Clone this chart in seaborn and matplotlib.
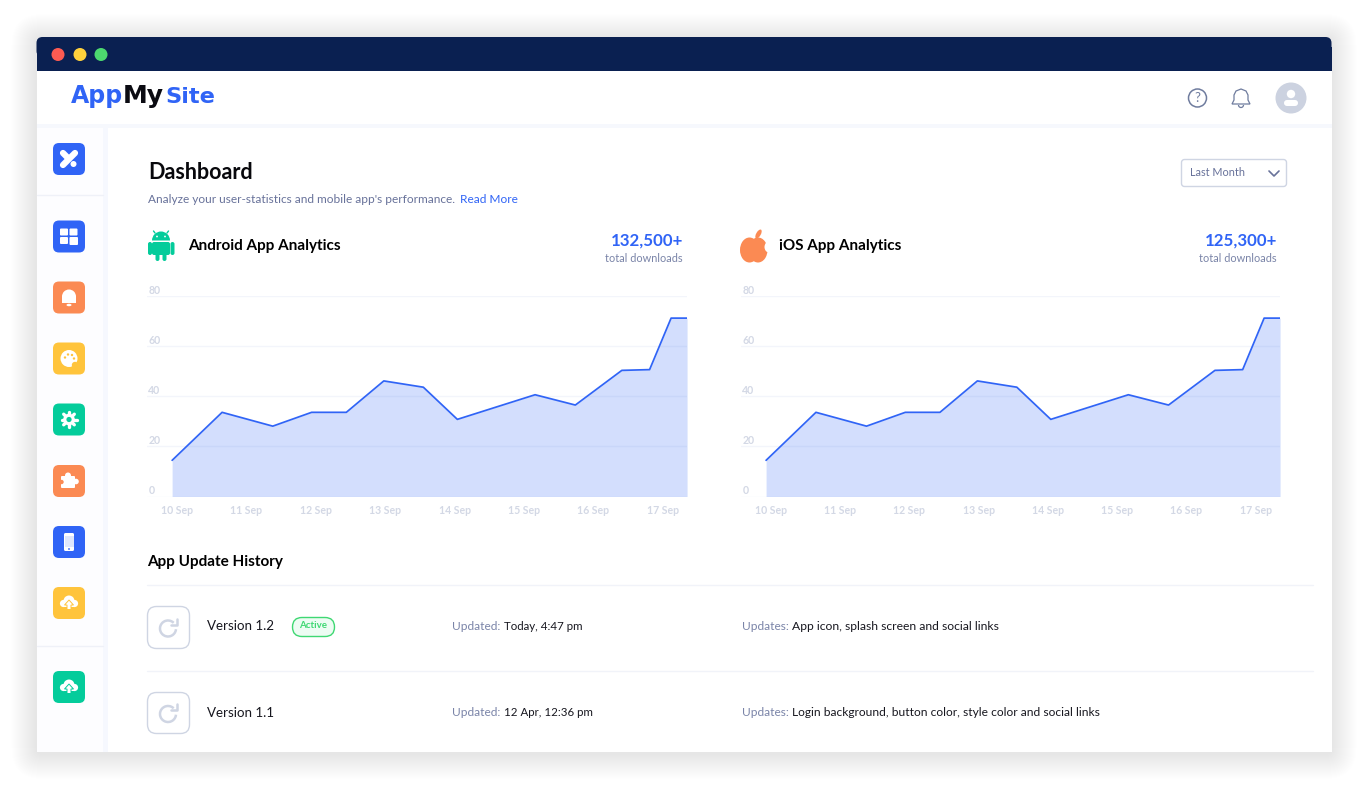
import numpy as np
import pandas as pd
import matplotlib
matplotlib.use("Agg")
import matplotlib.pyplot as plt
from matplotlib.patches import FancyBboxPatch, Circle, Rectangle, Ellipse, Polygon, Arc, Wedge
import seaborn as sns

# chart data, x is in days after 10 Sep
day_offset = [-0.07, 0.65, 1.38, 1.94, 2.44, 2.98, 3.55, 4.04, 5.16, 5.74, 6.41, 6.81, 7.12, 7.35]
android_values = [14.4, 33.5, 28, 33.5, 33.5, 46, 43.5, 30.7, 40.5, 36.4, 50.2, 50.5, 71, 71]
ios_values = [14.4, 33.5, 28, 33.5, 33.5, 46, 43.5, 30.7, 40.5, 36.4, 50.2, 50.5, 71, 71]
date_labels = ["10 Sep", "11 Sep", "12 Sep", "13 Sep", "14 Sep", "15 Sep", "16 Sep", "17 Sep"]
y_ticks = [0, 20, 40, 60, 80]

W, H = 1368, 788
BLUE = "#3064f6"
ORANGE = "#fb8a53"
YELLOW = "#ffc43c"
GREEN = "#04cc9b"
NAVY = "#0a2051"
MUTED = "#7a84a8"
PALE = "#cfd5e3"
TICK = "#d3d8e5"
GRID = "#f3f5fb"

sns.set_theme(style="white")
plt.rcParams["font.family"] = ["Lato", "DejaVu Sans"]

fig = plt.figure(figsize=(W / 100, H / 100), dpi=100, facecolor="white")
bg = fig.add_axes([0, 0, 1, 1])
bg.set_xlim(0, W)
bg.set_ylim(H, 0)
bg.axis("off")


def rrect(x, y, w, h, r, fc="white", ec="none", lw=1, alpha=None, z=2):
    p = FancyBboxPatch((x, y), w, h, boxstyle=f"round,pad=0,rounding_size={r}",
                       fc=fc, ec=ec, lw=lw, alpha=alpha, zorder=z)
    bg.add_patch(p)
    return p


def label(x, y, s, size, color="black", weight="normal", ha="left", va="center", family=None):
    bg.text(x, y, s, fontsize=size, color=color, fontweight=weight, ha=ha, va=va, zorder=6, family=family)


#Window shadow
for i in range(25, 0, -1):
    rrect(36.5 - i, 37 - i + 2, 1295 + 2 * i, 715 + 2 * i, 6 + i, fc="black", alpha=0.0045, z=1)

#Window frame
rrect(36.5, 37, 1295, 20, 6, fc=NAVY, z=2)
bg.add_patch(Rectangle((36.5, 47), 1295, 24, fc=NAVY, ec="none", zorder=2))
bg.add_patch(Rectangle((36.5, 71), 1295, 681, fc="white", ec="none", zorder=2))
for cx, col in zip([58, 80, 101], ["#fd5b52", "#ffd13c", "#4cd96f"]):
    bg.add_patch(Circle((cx, 54.5), 6.5, fc=col, ec="none", zorder=3))

#Header and sidebar shading
bg.add_patch(Rectangle((36.5, 124), 1295, 4, fc="#f6f8fd", ec="none", zorder=2.1))
bg.add_patch(Rectangle((36.5, 128), 66.5, 624, fc="#fdfdff", ec="none", zorder=2.1))
bg.add_patch(Rectangle((103, 128), 5, 624, fc="#f6f8fe", ec="none", zorder=2.1))
for yy in [194.5, 645.5]:
    bg.plot([36.5, 103], [yy, yy], color="#eff1f8", lw=1, zorder=2.2)

#Logo
label(71, 103, "App", 17, BLUE, "bold", va="baseline", family="DejaVu Sans")
label(123, 103, "My", 18, "#0b0b12", "bold", va="baseline", family="DejaVu Sans")
label(165, 103, "Site", 16.2, BLUE, "bold", va="baseline", family="DejaVu Sans")

#Header icons
bg.add_patch(Circle((1197.5, 98), 9, fc="white", ec="#6f7c9e", lw=1.1, zorder=3))
label(1197.5, 98, "?", 9.5, "#6f7c9e", ha="center")
bg.add_patch(Polygon([(1232, 104), (1234, 100), (1234, 95), (1236, 91), (1241, 89), (1246, 91),
                      (1248, 95), (1248, 100), (1250, 104)], closed=True, fc="white", ec="#6f7c9e", lw=0.9, zorder=3))
bg.add_patch(Arc((1241, 105), 5, 5, theta1=0, theta2=180, ec="#6f7c9e", lw=0.9, zorder=3))
bg.add_patch(Circle((1291, 98), 15.5, fc="#ccd2e0", ec="none", zorder=3))
bg.add_patch(Circle((1291, 94), 4.2, fc="white", ec="none", zorder=4))
rrect(1284, 100, 14, 6, 3, fc="white", z=4)

#Dropdown and title
rrect(1181.5, 159.5, 105, 27, 3, fc="white", ec=PALE, lw=1, z=3)
label(1190, 172.5, "Last Month", 7.8, "#68729a")
bg.plot([1269, 1274, 1279], [171, 176, 171], color="#68729a", lw=1.2, zorder=4)
label(148, 172, "Dashboard", 15.5, "#08080c", "bold")
label(148, 199, "Analyze your user-statistics and mobile app's performance.", 8.6, "#68729a")
label(460, 199, "Read More", 8.6, BLUE)


def base_icon(cy, color):
    rrect(53, cy - 16, 32, 32, 6, fc=color, z=3)


#Sidebar icons
base_icon(159, BLUE)
bg.plot([63, 75], [165, 153], color="white", lw=4.5, solid_capstyle="round", zorder=4)
bg.plot([63, 67], [153, 157], color="white", lw=4.5, solid_capstyle="round", zorder=4)
bg.add_patch(Circle((73.5, 164), 3, fc="white", ec="none", zorder=4))

base_icon(236.5, BLUE)
rrect(60, 228.5, 8, 7, 1, z=4)
rrect(69.5, 228.5, 8, 7, 1, z=4)
rrect(60, 237, 8, 7, 1, z=4)
rrect(69.5, 237, 8.5, 8, 1, z=4)

base_icon(297.5, ORANGE)
bg.add_patch(Wedge((69, 296.5), 7, 180, 360, fc="white", ec="none", zorder=4))
bg.add_patch(Rectangle((62, 295.5), 14, 7, fc="white", ec="none", zorder=4))
bg.add_patch(Ellipse((69, 305), 5, 2.5, fc="white", ec="none", zorder=4))

base_icon(358.5, YELLOW)
bg.add_patch(Circle((69, 358.5), 8.5, fc="white", ec="none", zorder=4))
for dx, dy in [(-4, -1), (-1, -4), (3, -3.5), (5, 0)]:
    bg.add_patch(Circle((69 + dx, 358.5 + dy), 1.2, fc=YELLOW, ec="none", zorder=5))
bg.add_patch(Circle((75, 365), 3.2, fc=YELLOW, ec="none", zorder=5))

base_icon(419.5, GREEN)
bg.add_patch(Circle((69, 419.5), 5.8, fc="white", ec="none", zorder=4))
for ang in np.arange(0, 360, 45):
    t = np.radians(ang)
    bg.plot([69, 69 + 7.5 * np.cos(t)], [419.5, 419.5 + 7.5 * np.sin(t)], color="white", lw=2.4, zorder=4)
bg.add_patch(Circle((69, 419.5), 2.6, fc=GREEN, ec="none", zorder=5))

base_icon(481, ORANGE)
rrect(61, 476, 14, 12, 1, z=4)
bg.add_patch(Circle((68, 475.5), 3, fc="white", ec="none", zorder=4))
bg.add_patch(Circle((76, 481.5), 2.8, fc="white", ec="none", zorder=4))
bg.add_patch(Circle((61.5, 482), 2.2, fc=ORANGE, ec="none", zorder=5))

base_icon(542, BLUE)
rrect(64, 533, 10, 18, 1.5, z=4)
bg.add_patch(Rectangle((64.5, 536), 9, 11, fc="#dfe7fd", ec="none", zorder=5))
bg.add_patch(Circle((69, 549), 0.9, fc=BLUE, ec="none", zorder=5))


def cloud(cy, color):
    base_icon(cy, color)
    bg.add_patch(Circle((69, cy - 2), 5.5, fc="white", ec="none", zorder=4))
    bg.add_patch(Circle((63.5, cy + 0.5), 3.6, fc="white", ec="none", zorder=4))
    bg.add_patch(Circle((74.5, cy + 0.5), 3.6, fc="white", ec="none", zorder=4))
    bg.add_patch(Rectangle((63.5, cy), 11, 4, fc="white", ec="none", zorder=4))
    bg.add_patch(Polygon([(64.5, cy + 2), (69, cy - 3), (73.5, cy + 2), (71, cy + 2), (71, cy + 6.5), (67, cy + 6.5),
                          (67, cy + 2)], closed=True, fc="white", ec=color, lw=0.7, zorder=5))


cloud(603, YELLOW)
cloud(687, GREEN)

#Android head row
bg.plot([155, 153.5], [233, 231], color=GREEN, lw=1, zorder=3)
bg.plot([167, 168.5], [233, 231], color=GREEN, lw=1, zorder=3)
bg.add_patch(Wedge((161, 240.5), 9, 180, 360, fc=GREEN, ec="none", zorder=3))
bg.add_patch(Circle((157, 236.5), 0.9, fc="white", ec="none", zorder=4))
bg.add_patch(Circle((165, 236.5), 0.9, fc="white", ec="none", zorder=4))
rrect(152, 242, 18, 13, 2, fc=GREEN, z=3)
rrect(148, 242, 4, 13, 2, fc=GREEN, z=3)
rrect(170.5, 242, 4, 13, 2, fc=GREEN, z=3)
rrect(155.5, 253, 4, 8, 2, fc=GREEN, z=3)
rrect(162.5, 253, 4, 8, 2, fc=GREEN, z=3)
label(188, 246, "Android App Analytics", 11, "black", "bold")
label(683, 241, "132,500+", 12.2, BLUE, "bold", ha="right")
label(683, 258, "total downloads", 7.9, MUTED, ha="right")

#Apple head row
bg.add_patch(Ellipse((749.5, 250), 19, 25, fc=ORANGE, ec="none", zorder=3))
bg.add_patch(Ellipse((758, 250), 19, 25, fc=ORANGE, ec="none", zorder=3))
bg.add_patch(Ellipse((769, 247), 9, 11, fc="white", ec="none", zorder=3.5))
bg.add_patch(Ellipse((758.5, 234), 4.5, 10, angle=30, fc=ORANGE, ec="none", zorder=3))
label(779, 246, "iOS App Analytics", 11, "black", "bold")
label(1277, 241, "125,300+", 12.2, BLUE, "bold", ha="right")
label(1277, 258, "total downloads", 7.9, MUTED, ha="right")


def draw_chart(left, right, values):
    ax = fig.add_axes([left / W, 1 - 496.5 / H, (right - left) / W, 201 / H])
    ax.patch.set_alpha(0)
    frame = pd.DataFrame({"day": day_offset, "value": values})
    ax.grid(False)
    for t in y_ticks:
        ax.axhline(t, color=GRID, lw=1, zorder=1)
    ax.fill_between(frame["day"], frame["value"], 0, color=BLUE, alpha=0.21, lw=0, zorder=2)
    sns.lineplot(data=frame, x="day", y="value", color=BLUE, lw=1.25, sort=False, ax=ax, zorder=3)
    ax.set_xlim(-0.432, 7.349)
    ax.set_ylim(0, 80)
    ax.set_xlabel("")
    ax.set_ylabel("")
    ax.set_xticks(range(len(date_labels)))
    ax.set_xticklabels(date_labels, fontsize=7.6, color=TICK, fontweight="bold")
    ax.set_yticks(y_ticks)
    # labels sit just above their gridlines, inside the plot
    ax.set_yticklabels([str(t) for t in y_ticks], fontsize=7.6, color=TICK, fontweight="bold", ha="left", va="bottom")
    ax.tick_params(axis="y", length=0, pad=-1)
    ax.tick_params(axis="x", length=0, pad=6)
    sns.despine(ax=ax, left=True, bottom=True)
    return ax


draw_chart(147, 687, android_values)
draw_chart(741, 1280, ios_values)

#Update history
label(147, 562, "App Update History", 11, "black", "bold")
for yy in [584.5, 670.5]:
    bg.plot([147, 1313], [yy, yy], color="#f1f3f9", lw=1, zorder=3)


def reload_box(y, h):
    rrect(147.5, y, 42, h, 9, fc="white", ec=PALE, lw=1, z=3)
    cy = y + h / 2
    bg.add_patch(Arc((168, cy + 1), 16, 16, theta1=5, theta2=315, ec=PALE, lw=1.8, zorder=4))
    bg.plot([176.5, 176.5, 170.5], [cy - 9, cy - 3, cy - 3], color=PALE, lw=1.8, zorder=4)


reload_box(606.5, 42)
reload_box(692.5, 41)
label(207, 626, "Version 1.2", 9.6, "#17171f")
label(207, 713, "Version 1.1", 9.6, "#17171f")
rrect(292.5, 617.5, 42, 19, 9.5, fc="#edfcf3", ec="#3fd873", lw=1, z=3)
label(313, 626, "Active", 7, "#3fd873", "bold", ha="center")
label(452, 626, "Updated:", 8.6, MUTED)
label(504, 626, "Today, 4:47 pm", 8.3, "#17171f")
label(452, 712, "Updated:", 8.6, MUTED)
label(504, 712, "12 Apr, 12:36 pm", 8.3, "#17171f")
label(742, 626, "Updates:", 8.6, MUTED)
label(792, 626, "App icon, splash screen and social links", 8.7, "#17171f")
label(742, 712, "Updates:", 8.6, MUTED)
label(792, 712, "Login background, button color, style color and social links", 8.65, "#17171f")

fig.savefig("out.png", dpi=100)
